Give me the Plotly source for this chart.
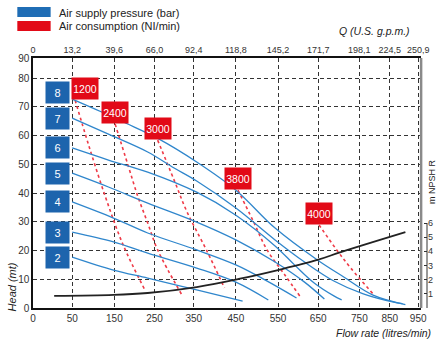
import numpy as np
import plotly.graph_objects as go

# ---------------- data ----------------
FLOW_TICKS = [0, 50, 150, 250, 350, 450, 550, 650, 750, 850, 950]
GPM_LABELS = ["0", "13,2", "39,6", "66,0", "92,4", "118,8", "145,2", "171,7", "198,1", "224,5", "250,9"]
HEAD_TICKS = [0, 10, 20, 30, 40, 50, 60, 70, 80, 90]
NPSH_TICKS = [1, 2, 3, 4, 5, 6]
LEGEND_NAMES = ["Air supply pressure (bar)", "Air consumption (NI/min)"]

PRESSURE_LABELS = ["8", "7", "6", "5", "4", "3", "2"]
P8_FLOW = [50, 120, 179, 257, 357, 450, 543, 648, 712, 795, 905]
P8_HEAD = [72.7, 68.2, 64.3, 59.1, 50.8, 41.0, 27.8, 16.7, 10.8, 4.5, 1.2]
P7_FLOW = [50, 136, 233, 300, 357, 450, 543, 616, 688, 763, 860, 895]
P7_HEAD = [66.1, 60.5, 54.3, 48.7, 44.2, 34.8, 23.7, 16.0, 9.4, 4.9, 2.1, 1.5]
P6_FLOW = [50, 136, 233, 357, 450, 543, 591, 640, 688, 707]
P6_HEAD = [55.7, 51.5, 47.3, 40.3, 32.3, 21.6, 15.0, 8.7, 4.2, 2.8]
P5_FLOW = [50, 136, 233, 357, 450, 543, 616, 665]
P5_HEAD = [46.9, 42.1, 36.5, 29.9, 23.7, 16.0, 9.0, 3.1]
P4_FLOW = [50, 148, 233, 357, 450, 520, 596]
P4_HEAD = [36.9, 31.3, 26.1, 20.2, 15.0, 9.7, 3.5]
P3_FLOW = [50, 148, 233, 357, 450, 527]
P3_HEAD = [26.4, 23.0, 19.1, 13.9, 9.0, 2.8]
P2_FLOW = [50, 148, 233, 357, 466]
P2_HEAD = [17.7, 13.2, 10.4, 6.3, 2.4]

AIR_LABELS = ["1200", "2400", "3000", "3800", "4000"]
A1200_FLOW = [57, 89, 129, 172, 226]
A1200_HEAD = [72.3, 56.7, 38.6, 21.9, 6.3]
A2400_FLOW = [152, 184, 209, 233, 258, 320]
A2400_HEAD = [64.0, 49.7, 38.6, 29.6, 20.2, 4.5]
A3000_FLOW = [258, 300, 333, 380, 423]
A3000_HEAD = [58.4, 44.5, 33.4, 20.2, 7.0]
A3800_FLOW = [455, 490, 524, 567, 604]
A3800_HEAD = [41.0, 30.6, 20.2, 11.5, 4.2]
A4000_FLOW = [652, 695, 729, 795]
A4000_HEAD = [28.9, 20.2, 13.9, 4.9]

NPSH_FLOW = [27, 148, 233, 357, 457, 550, 648, 705, 905]
NPSH_M = [0.85, 0.92, 1.06, 1.48, 2.05, 2.68, 3.39, 3.95, 5.36]

# ---------------- layout geometry (drawn, non-uniform scales) ----------------
X_TICK_POS = [0, 40, 83, 124, 164, 207, 250, 291, 333, 364, 393]
Y_TICK_POS = [0, 10, 20, 30, 40, 50, 60, 70, 80, 87]
W, H = 444, 342
ML, MR, MT, MB = 33, 9, 58, 34
PLOT_W = W - ML - MR
PLOT_H = H - MT - MB


def fx(v):
    return np.interp(v, FLOW_TICKS, X_TICK_POS)


def fy(v):
    return np.interp(v, HEAD_TICKS, Y_TICK_POS)


BLUE_LINE = "#2f86cc"
BLUE_BOX = "#1d64ad"
RED_BOX = "#e20a17"
RED_LINE = "#ef3a47"
FONT = "Liberation Sans, Arial, sans-serif"

pressure_series = [(P8_FLOW, P8_HEAD), (P7_FLOW, P7_HEAD), (P6_FLOW, P6_HEAD), (P5_FLOW, P5_HEAD),
                   (P4_FLOW, P4_HEAD), (P3_FLOW, P3_HEAD), (P2_FLOW, P2_HEAD)]
air_series = [(A1200_FLOW, A1200_HEAD), (A2400_FLOW, A2400_HEAD), (A3000_FLOW, A3000_HEAD),
              (A3800_FLOW, A3800_HEAD), (A4000_FLOW, A4000_HEAD)]

fig = go.Figure()

for (f, h), lab in zip(air_series, AIR_LABELS):
    fig.add_trace(go.Scatter(x=fx(f), y=fy(h), mode="lines", line=dict(color=RED_LINE, width=1.6, dash="3px,3px", shape="spline"),
                             name=lab, showlegend=False, hoverinfo="skip"))

for (f, h), lab in zip(pressure_series, PRESSURE_LABELS):
    fig.add_trace(go.Scatter(x=fx(f), y=fy(h), mode="lines", line=dict(color=BLUE_LINE, width=1.3, shape="spline"),
                             name=lab + " bar", showlegend=False, hoverinfo="skip"))

fig.add_trace(go.Scatter(x=fx(NPSH_FLOW), y=NPSH_M, yaxis="y2", mode="lines",
                         line=dict(color="#222222", width=1.8, shape="spline"), showlegend=False, hoverinfo="skip"))
# dummy trace to activate the top axis
fig.add_trace(go.Scatter(x=[fx(0)], y=[None], xaxis="x2", mode="lines", showlegend=False, hoverinfo="skip"))

annotations = []
# pressure label boxes
for i, ((f, h), lab) in enumerate(zip(pressure_series, PRESSURE_LABELS)):
    annotations.append(dict(x=fx(f[0]), y=fy(h[0]), xref="x", yref="y", text=lab, showarrow=False,
                            xanchor="right", yanchor="middle", xshift=-2, yshift=7 if i == 0 else 0,
                            width=23, height=21, bgcolor=BLUE_BOX, borderpad=0,
                            font=dict(family=FONT, size=11, color="white")))
# air consumption label boxes
for i, ((f, h), lab) in enumerate(zip(air_series, AIR_LABELS)):
    annotations.append(dict(x=fx(f[0]), y=fy(h[0]), xref="x", yref="y", text=lab, showarrow=False,
                            xanchor="center", yanchor="bottom", xshift=10 if i == 0 else 0,
                            width=26, height=21, bgcolor=RED_BOX, borderpad=0,
                            font=dict(family=FONT, size=10.5, color="white")))


def px2paper_x(px):
    return (px - ML) / PLOT_W


def py2paper_y(py):
    return (H - MB - py) / PLOT_H


# legend
shapes = []
for (y0, y1), col, name, ty in [((7, 17), "#1f6db5", LEGEND_NAMES[0], 12.5), ((21, 31), RED_BOX, LEGEND_NAMES[1], 26)]:
    shapes.append(dict(type="rect", xref="paper", yref="paper", x0=px2paper_x(17), x1=px2paper_x(51),
                       y0=py2paper_y(y1), y1=py2paper_y(y0), fillcolor=col, line=dict(width=0)))
    annotations.append(dict(x=px2paper_x(57), y=py2paper_y(ty), xref="paper", yref="paper", text=name,
                            showarrow=False, xanchor="left", yanchor="middle",
                            font=dict(family=FONT, size=11, color="#222")))

# titles
annotations.append(dict(x=px2paper_x(420), y=py2paper_y(31), xref="paper", yref="paper", text="<i>Q (U.S. g.p.m.)</i>",
                        showarrow=False, xanchor="right", yanchor="middle", font=dict(family=FONT, size=10.5, color="#222")))
annotations.append(dict(x=px2paper_x(441), y=py2paper_y(333), xref="paper", yref="paper", text="<i>Flow rate (litres/min)</i>",
                        showarrow=False, xanchor="right", yanchor="middle", font=dict(family=FONT, size=10.5, color="#222")))
annotations.append(dict(x=px2paper_x(12), y=py2paper_y(287), xref="paper", yref="paper", text="<i>Head (mt)</i>",
                        showarrow=False, textangle=-90, xanchor="center", yanchor="middle", font=dict(family=FONT, size=11, color="#222")))
annotations.append(dict(x=px2paper_x(440), y=py2paper_y(181), xref="paper", yref="paper", text="m NPSH R",
                        showarrow=False, textangle=-90, xanchor="center", yanchor="middle", font=dict(family=FONT, size=9, color="#222")))

# right border and NPSHR bracket
shapes.append(dict(type="line", xref="paper", yref="paper", x0=px2paper_x(429), x1=px2paper_x(429), y0=0, y1=1,
                   line=dict(color="#8a8a8a", width=2.5)))
shapes.append(dict(type="line", xref="paper", yref="y2", x0=1, x1=1, y0=0, y1=NPSH_TICKS[-1],
                   line=dict(color="#333", width=1)))

x_end = X_TICK_POS[-1] + 3
fig.update_layout(
    width=W, height=H, margin=dict(l=ML, r=MR, t=MT, b=MB),
    paper_bgcolor="white", plot_bgcolor="white", showlegend=False,
    xaxis=dict(domain=[0, x_end / PLOT_W], range=[0, x_end], tickmode="array", tickvals=X_TICK_POS,
               ticktext=[str(v) for v in FLOW_TICKS], showgrid=True, gridcolor="#333", griddash="4px,3px", gridwidth=1,
               showline=True, linecolor="#111", linewidth=1.5, zeroline=False, ticks="", ticklen=0,
               tickfont=dict(family=FONT, size=10, color="#333")),
    xaxis2=dict(overlaying="x", side="top", range=[0, x_end], tickmode="array", tickvals=X_TICK_POS,
                ticktext=GPM_LABELS, showgrid=False, showline=True, linecolor="#111", linewidth=1.5, zeroline=False,
                ticks="", tickfont=dict(family=FONT, size=9, color="#333")),
    yaxis=dict(range=[0, Y_TICK_POS[-1]], tickmode="array", tickvals=Y_TICK_POS, ticktext=[str(v) for v in HEAD_TICKS],
               showgrid=True, gridcolor="#333", griddash="4px,3px", gridwidth=1, showline=True, linecolor="#111",
               linewidth=1.5, zeroline=False, ticks="", tickfont=dict(family=FONT, size=10, color="#333")),
    yaxis2=dict(overlaying="y", side="right", anchor="free", position=1,
                range=[0, NPSH_TICKS[-1] * PLOT_H / 85], tickmode="array", tickvals=NPSH_TICKS,
                showgrid=False, showline=False, zeroline=False, ticks="inside", ticklen=3, tickcolor="#333",
                tickfont=dict(family=FONT, size=9, color="#333")),
    shapes=shapes, annotations=annotations,
)

fig.write_html("out.html")
